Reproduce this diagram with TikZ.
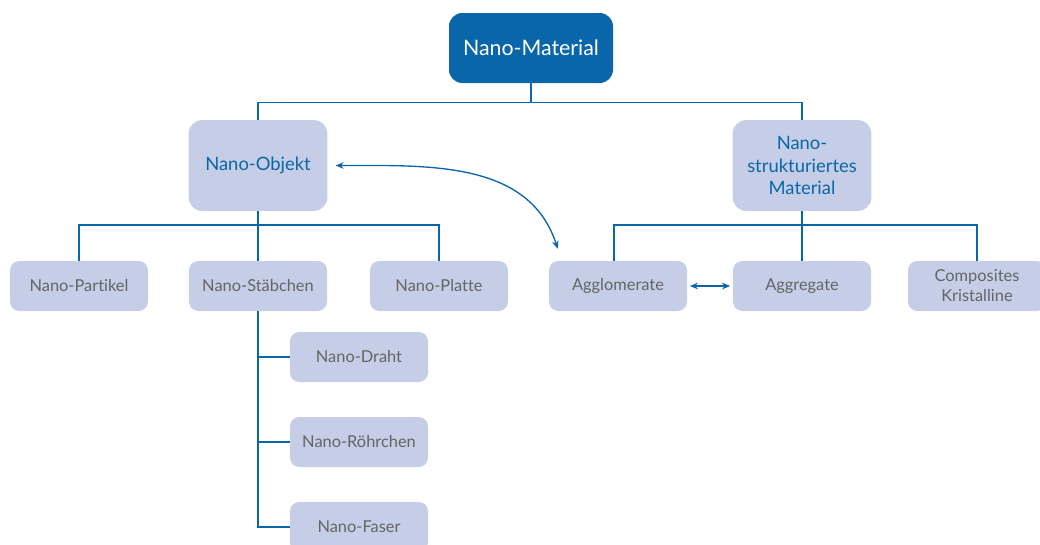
\documentclass[tikz,border=0pt]{standalone}
\usepackage{fontspec}
\setmainfont{Lato}[Ligatures=NoCommon]
\usepackage{xcolor}
\usetikzlibrary{shapes,arrows.meta,positioning,calc}
\definecolor{nanoblue}{HTML}{0A66AB}
\definecolor{nanofill}{HTML}{C5CDE7}
\definecolor{nanogray}{HTML}{656565}

\begin{document}
\begin{tikzpicture}[
			x=0.75pt, y=-0.75pt,
			rootblock/.style={rectangle, fill=nanoblue, text=white, rounded corners=10pt, minimum width=123pt, minimum height=52.5pt, align=center, font=\fontsize{16}{18}\selectfont},
			mainblock/.style={rectangle, fill=nanofill, text=nanoblue, rounded corners=10pt, minimum width=104pt, minimum height=68pt, align=center, font=\fontsize{13.8}{17}\selectfont},
			leafblock/.style={rectangle, fill=nanofill, text=nanogray, rounded corners=7pt, minimum width=103.5pt, minimum height=37.5pt, align=center, font=\fontsize{12.3}{15}\selectfont},
			tree/.style={draw=nanoblue, line width=1pt},
			arrow/.style={{Stealth[length=6pt,width=5pt]}-{Stealth[length=6pt,width=5pt]}, draw=nanoblue, line width=1pt}
			]
			\useasboundingbox (0,0) rectangle (1040,544);
			
			% Root
			\node[rootblock] (root) at (531,48) {Nano-Material};
			
			% Main classes
			\node[mainblock] (objekt) at (258,165.5) {Nano-Objekt};
			\node[mainblock] (struktur) at (802,165.5) {Nano-\\strukturiertes\\Material};
			
			% Nano-Objekt children
			\node[leafblock] (partikel) at (79,286) {Nano-Partikel};
			\node[leafblock] (staebchen) at (258,286) {Nano-Stäbchen};
			\node[leafblock] (platte) at (439,286) {Nano-Platte};
			
			% Nano-Stäbchen children
			\node[leafblock] (draht) at (359,357) {Nano-Draht};
			\node[leafblock] (roehrchen) at (359,442) {Nano-Röhrchen};
			\node[leafblock] (faser) at (359,527) {Nano-Faser};
			
			% Nanostrukturiertes Material children
			\node[leafblock] (agglomerate) at (618,286) {Agglomerate};
			\node[leafblock] (aggregate) at (802,286) {Aggregate};
			\node[leafblock] (composites) at (977,286) {Composites\\Kristalline};
			
			% Tree connections
			\draw[tree] (root.south) -- ++(0,19) -| (objekt.north);
			\draw[tree] (root.south) -- ++(0,19) -| (struktur.north);
			
			\draw[tree] (objekt.south) -- ++(0,14) -| (partikel.north);
			\draw[tree] (objekt.south) -- (staebchen.north);
			\draw[tree] (objekt.south) -- ++(0,14) -| (platte.north);
			
			\draw[tree] (staebchen.south) |- (draht.west);
			\draw[tree] (staebchen.south) |- (roehrchen.west);
			\draw[tree] (staebchen.south) |- (faser.west);
			
			\draw[tree] (struktur.south) -- ++(0,14) -| ([xshift=-3pt]agglomerate.north);
			\draw[tree] (struktur.south) -- (aggregate.north);
			\draw[tree] (struktur.south) -- ++(0,14) -| (composites.north);
			
			% Relations
			\coordinate (objtip) at ($(objekt.east)+(8,0)$);
			\coordinate (aggtip) at ($(agglomerate.north west)+(9,-12)$);
			\draw[arrow] (objtip) to[out=0,in=108] (aggtip);
			\draw[arrow, shorten <=2pt, shorten >=2pt] (agglomerate.east) -- (aggregate.west);
			
		\end{tikzpicture}
\end{document}
